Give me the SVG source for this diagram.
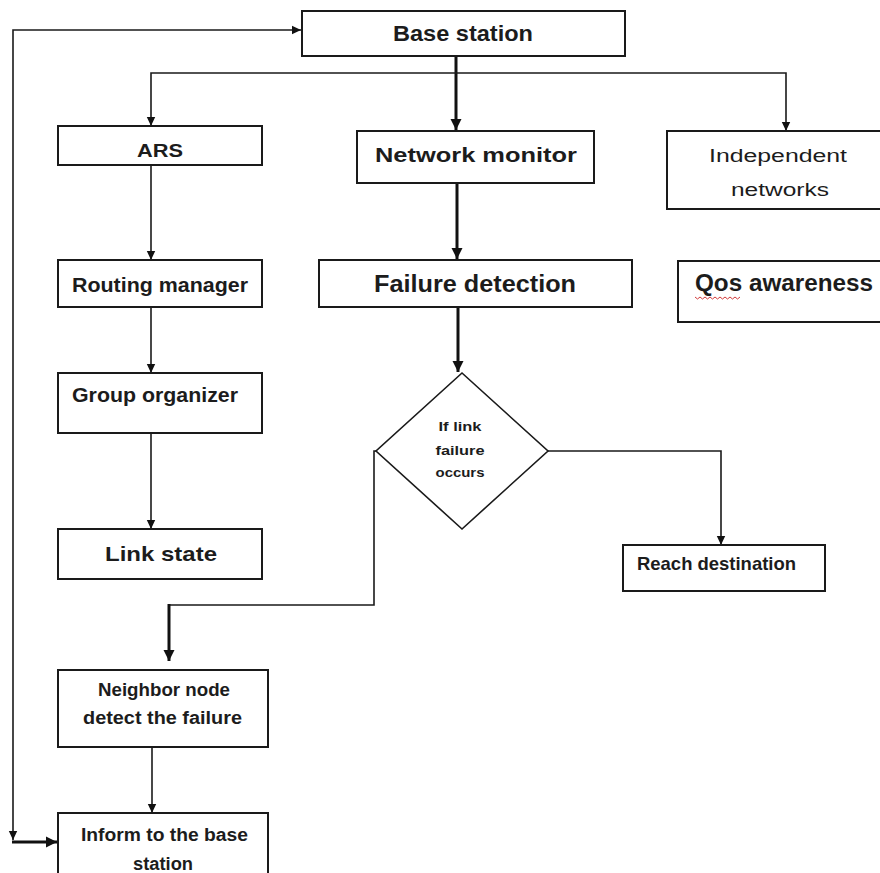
<svg xmlns="http://www.w3.org/2000/svg" width="880" height="873" viewBox="0 0 880 873">
<style>
.box{fill:#fff;stroke:#1a1a1a;stroke-width:2}
.t{font-family:"Liberation Sans",Arial,sans-serif;font-weight:bold;fill:#1c1c1c}
.n{font-weight:normal}
.c{fill:none;stroke:#1a1a1a;stroke-width:1.6}
.k{fill:none;stroke:#111;stroke-width:3}
</style>
<defs>
<marker id="a" markerUnits="userSpaceOnUse" markerWidth="10" markerHeight="10" refX="9" refY="5" orient="auto-start-reverse">
<path d="M0,0.8 L9,5 L0,9.2 Z" fill="#111"/>
</marker>
<marker id="b" markerUnits="userSpaceOnUse" markerWidth="12" markerHeight="12" refX="11" refY="6" orient="auto">
<path d="M0,0.5 L11,6 L0,11.5 Z" fill="#111"/>
</marker>
</defs>
<rect width="880" height="873" fill="#fff"/>
<g id="connectors">
<polyline class="c" points="13,840 13,30 301,30" marker-start="url(#a)" marker-end="url(#a)"/>
<line class="k" x1="12" y1="842" x2="57" y2="842" marker-end="url(#b)"/>
<line class="k" x1="456" y1="56" x2="456" y2="130" marker-end="url(#b)"/>
<polyline class="c" points="151,126 151,73 786,73 786,131" marker-start="url(#a)" marker-end="url(#a)"/>
<line class="c" x1="151" y1="165" x2="151" y2="260" marker-end="url(#a)"/>
<line class="c" x1="151" y1="307" x2="151" y2="373" marker-end="url(#a)"/>
<line class="c" x1="151" y1="433" x2="151" y2="529" marker-end="url(#a)"/>
<line class="k" x1="457" y1="183" x2="457" y2="259" marker-end="url(#b)"/>
<line class="k" x1="458" y1="307" x2="458" y2="372" marker-end="url(#b)"/>
<polyline class="c" points="548,451 721,451 721,545" marker-end="url(#a)"/>
<polyline class="c" points="376,451 374,451 374,605 169,605"/>
<line class="k" x1="169" y1="604" x2="169" y2="661" marker-end="url(#b)"/>
<line class="c" x1="152" y1="747" x2="152" y2="813" marker-end="url(#a)"/>
</g>
<g id="base-station">
<rect class="box" x="302" y="11" width="323" height="45"/>
<text class="t" x="463" y="41" font-size="22" text-anchor="middle" textLength="140" lengthAdjust="spacingAndGlyphs">Base station</text>
</g>
<g id="ars">
<rect class="box" x="58" y="126" width="204" height="39"/>
<text class="t" x="160" y="157" font-size="19" text-anchor="middle" textLength="46" lengthAdjust="spacingAndGlyphs">ARS</text>
</g>
<g id="network-monitor">
<rect class="box" x="357" y="131" width="237" height="52"/>
<text class="t" x="476" y="161.5" font-size="21" text-anchor="middle" textLength="202" lengthAdjust="spacingAndGlyphs">Network monitor</text>
</g>
<g id="independent-networks">
<rect class="box" x="667" y="131" width="216" height="78"/>
<text class="t n" x="778" y="161.5" font-size="18" text-anchor="middle" textLength="138" lengthAdjust="spacingAndGlyphs">Independent</text>
<text class="t n" x="780" y="195.5" font-size="18" text-anchor="middle" textLength="98" lengthAdjust="spacingAndGlyphs">networks</text>
</g>
<g id="routing-manager">
<rect class="box" x="58" y="260" width="204" height="47"/>
<text class="t" x="160" y="292" font-size="20" text-anchor="middle" textLength="176" lengthAdjust="spacingAndGlyphs">Routing manager</text>
</g>
<g id="failure-detection">
<rect class="box" x="319" y="260" width="313" height="47"/>
<text class="t" x="475" y="291.5" font-size="24" text-anchor="middle" textLength="202" lengthAdjust="spacingAndGlyphs">Failure detection</text>
</g>
<g id="qos-awareness">
<rect class="box" x="678" y="261" width="205" height="61"/>
<text class="t" x="695" y="291" font-size="23" textLength="178" lengthAdjust="spacingAndGlyphs">Qos awareness</text>
<path d="M695,297 l2.5,2 l2.5,-2 l2.5,2 l2.5,-2 l2.5,2 l2.5,-2 l2.5,2 l2.5,-2 l2.5,2 l2.5,-2 l2.5,2 l2.5,-2 l2.5,2 l2.5,-2 l2.5,2 l2.5,-2 l2.5,2 l2.5,-2" fill="none" stroke="#d23b3b" stroke-width="1"/>
</g>
<g id="group-organizer">
<rect class="box" x="58" y="373" width="204" height="60"/>
<text class="t" x="72" y="402" font-size="20" textLength="166" lengthAdjust="spacingAndGlyphs">Group organizer</text>
</g>
<g id="link-failure-decision">
<polygon points="462,373 548,451 462,529 376,451" fill="#fff" stroke="#1a1a1a" stroke-width="1.6"/>
<text class="t" x="460" y="430.5" font-size="13" text-anchor="middle" textLength="43" lengthAdjust="spacingAndGlyphs">If link</text>
<text class="t" x="460" y="454.5" font-size="13" text-anchor="middle" textLength="49" lengthAdjust="spacingAndGlyphs">failure</text>
<text class="t" x="460" y="477" font-size="13" text-anchor="middle" textLength="49" lengthAdjust="spacingAndGlyphs">occurs</text>
</g>
<g id="link-state">
<rect class="box" x="58" y="529" width="204" height="50"/>
<text class="t" x="161" y="560.5" font-size="21" text-anchor="middle" textLength="112" lengthAdjust="spacingAndGlyphs">Link state</text>
</g>
<g id="reach-destination">
<rect class="box" x="623" y="545" width="202" height="46"/>
<text class="t" x="637" y="569.5" font-size="19" textLength="159" lengthAdjust="spacingAndGlyphs">Reach destination</text>
</g>
<g id="neighbor-node">
<rect class="box" x="58" y="670" width="210" height="77"/>
<text class="t" x="164" y="695.5" font-size="18" text-anchor="middle" textLength="132" lengthAdjust="spacingAndGlyphs">Neighbor node</text>
<text class="t" x="162.5" y="723.5" font-size="18" text-anchor="middle" textLength="159" lengthAdjust="spacingAndGlyphs">detect the failure</text>
</g>
<g id="inform-base-station">
<rect class="box" x="58" y="813" width="210" height="70"/>
<text class="t" x="164.5" y="840.5" font-size="18" text-anchor="middle" textLength="167" lengthAdjust="spacingAndGlyphs">Inform to the base</text>
<text class="t" x="163" y="869.5" font-size="18" text-anchor="middle" textLength="60" lengthAdjust="spacingAndGlyphs">station</text>
</g>
</svg>
